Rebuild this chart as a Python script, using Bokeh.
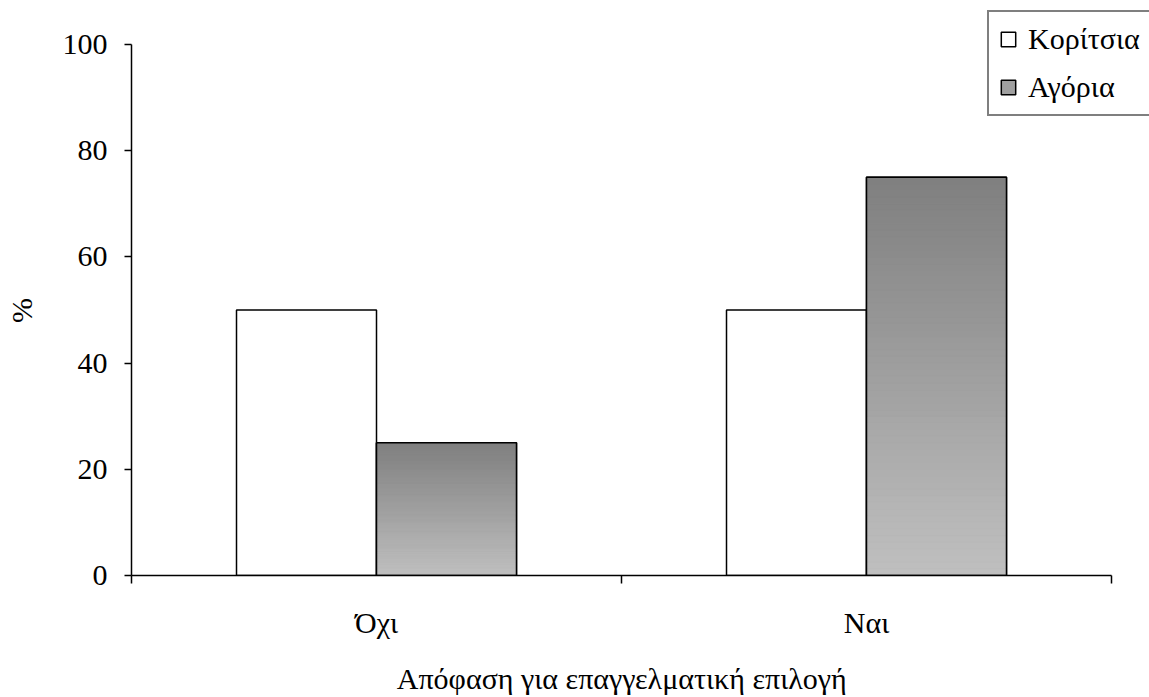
from bokeh.plotting import figure
from bokeh.models import Range1d, FixedTicker, Legend, LegendItem
from bokeh.embed import file_html
from bokeh.resources import INLINE

# ---- data ----
categories = ["Όχι", "Ναι"]
series = ["Κορίτσια", "Αγόρια"]
girls = [50, 50]
boys = [25, 75]
y_ticks = [0, 20, 40, 60, 80, 100]
x_label = "Απόφαση για επαγγελματική επιλογή"
y_label = "%"

FONT = "Liberation Serif"
FS = "30px"
NBSP = "\u00a0"

W, H = 1149, 697
# frame geometry (canvas px): axes at left=131, bottom=575; value 100 at 44; category end at 1111
FL, FB, FT100, FR2 = 131, 575, 44, 1111
y_max = y_ticks[-1]
px_per_y = (FB - FT100) / y_max
px_per_x = (FR2 - FL) / len(categories)
y_end = y_max + FT100 / px_per_y
x_end = len(categories) + (W - FR2) / px_per_x

p = figure(width=W, height=H, output_backend="svg", toolbar_location=None,
           title=None,
           x_range=Range1d(0, x_end), y_range=Range1d(0, y_end),
           min_border_left=FL, min_border_right=0, min_border_top=0,
           min_border_bottom=H - FB)
p.outline_line_color = None
p.xgrid.visible = False
p.ygrid.visible = False
p.background_fill_color = "white"
p.border_fill_color = "white"

centers = [i + 0.5 for i in range(len(categories))]
bar_w = 0.2857
off = bar_w / 2
girls_x = [c - off for c in centers]
boys_x = [c + off for c in centers]

girls_r = p.vbar(x=girls_x, top=girls, bottom=0, width=bar_w,
                 fill_color="white", line_color="black", line_width=1.5)

# base boys bar (used as legend swatch), covered by gradient strips
boys_base = p.vbar(x=boys_x, top=boys, bottom=0, width=bar_w,
                   fill_color="#a0a0a0", line_color="black", line_width=1.5)

# gradient fill for boys bars (dark top -> light bottom), built from strips
N = 60
for xc, v in zip(boys_x, boys):
    lefts, rights, bots, tops, cols = [], [], [], [], []
    for k in range(N):
        t = (k + 0.5) / N
        g = int(round(192 - t * (192 - 127)))
        cols.append("#%02x%02x%02x" % (g, g, g))
        lefts.append(xc - bar_w / 2)
        rights.append(xc + bar_w / 2)
        bots.append(v * k / N)
        tops.append(v * (k + 1) / N)
    p.quad(left=lefts, right=rights, bottom=bots, top=tops,
           fill_color=cols, line_color=cols, line_width=0.8)

p.vbar(x=boys_x, top=boys, bottom=0, width=bar_w, fill_alpha=0,
       line_color="black", line_width=1.5)

# ---- axes ----
xa = p.xaxis[0]
xa.bounds = (0, len(categories))
xa.ticker = FixedTicker(ticks=centers,
                        minor_ticks=[float(i) for i in range(len(categories) + 1)])
xa.major_label_overrides = {c: cat for c, cat in zip(centers, categories)}
xa.major_tick_line_color = None
xa.major_tick_out = 0
xa.major_tick_in = 0
xa.minor_tick_out = 8
xa.minor_tick_in = 0
xa.minor_tick_line_color = "black"
xa.minor_tick_line_width = 1.5
xa.axis_line_width = 1.5
xa.axis_line_color = "black"
xa.major_label_standoff = 22
xa.major_label_text_font = FONT
xa.major_label_text_font_size = FS
xa.major_label_text_color = "black"
xa.axis_label = x_label + NBSP * 5
xa.axis_label_text_font = FONT
xa.axis_label_text_font_size = FS
xa.axis_label_text_font_style = "normal"
xa.axis_label_text_color = "black"
xa.axis_label_standoff = 20

ya = p.yaxis[0]
ya.bounds = (0, y_max)
ya.ticker = FixedTicker(ticks=y_ticks, minor_ticks=[])
ya.major_tick_out = 7
ya.major_tick_in = 0
ya.major_tick_line_width = 1.5
ya.major_tick_line_color = "black"
ya.minor_tick_line_color = None
ya.axis_line_width = 1.5
ya.axis_line_color = "black"
ya.major_label_standoff = 17
ya.major_label_text_font = FONT
ya.major_label_text_font_size = FS
ya.major_label_text_color = "black"
ya.axis_label = y_label + NBSP * 6
ya.axis_label_text_font = FONT
ya.axis_label_text_font_size = FS
ya.axis_label_text_font_style = "normal"
ya.axis_label_text_color = "black"
ya.axis_label_standoff = 22

# ---- legend ----
legend = Legend(items=[LegendItem(label=series[0], renderers=[girls_r]),
                       LegendItem(label=series[1], renderers=[boys_base])],
                location=(856, 459), orientation="vertical",
                glyph_width=18, glyph_height=18, label_standoff=11,
                padding=10, spacing=14, label_height=33, margin=0,
                border_line_color="black", border_line_width=2,
                background_fill_color="white", background_fill_alpha=1,
                label_text_font=FONT, label_text_font_size=FS,
                label_text_color="black")
p.add_layout(legend)

open("out.html", "w").write(file_html(p, INLINE))
